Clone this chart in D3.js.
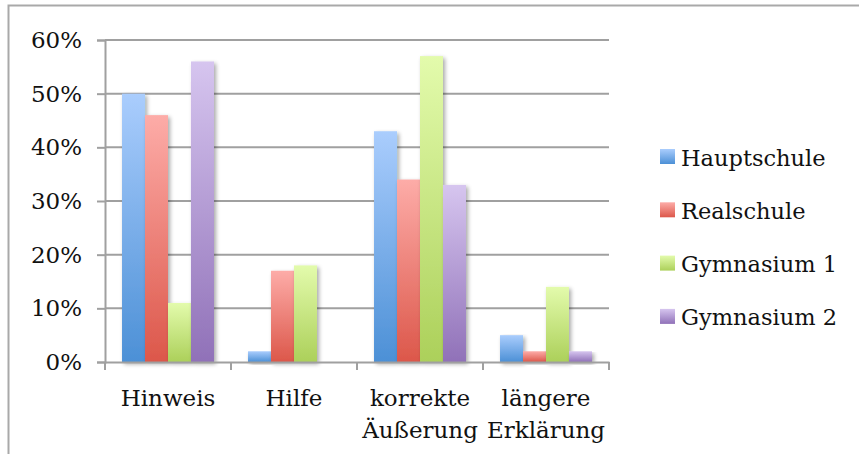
<!DOCTYPE html>
<html>
<head>
<meta charset="utf-8">
<script src="https://cdn.jsdelivr.net/npm/d3@7/dist/d3.min.js"></script>
<style>
  html, body { margin: 0; padding: 0; background: #fff; }
  svg { display: block; }
  text { font-family: "DejaVu Serif", serif; fill: #111; }
</style>
</head>
<body>
<svg id="chart" width="859" height="454"></svg>
<script>
// Feedback types (x categories, two-line labels)
const categories = ["Hinweis", "Hilfe", "korrekte Äußerung", "längere Erklärung"];
const categoryLines = [["Hinweis"], ["Hilfe"], ["korrekte", "Äußerung"], ["längere", "Erklärung"]];

// School types (series)
const seriesNames = ["Hauptschule", "Realschule", "Gymnasium 1", "Gymnasium 2"];

// Share per category, in percent
const hauptschule = [50, 2, 43, 5];
const realschule  = [46, 17, 34, 2];
const gymnasium1  = [11, 18, 57, 14];
const gymnasium2  = [56, 0, 33, 2];
const seriesValues = [hauptschule, realschule, gymnasium1, gymnasium2];

const yTicks = [0, 10, 20, 30, 40, 50, 60];

// Gradient colours (top, bottom) per series
const gradTop    = ["#aacdfd", "#fdaca8", "#e3fbac", "#d6c5ef"];
const gradBottom = ["#4c90d6", "#dc574a", "#acd05a", "#9071b8"];

const svg = d3.select("#chart");
const margin = { left: 105, right: 609, top: 40, bottom: 362 };

const defs = svg.append("defs");
seriesNames.forEach((s, i) => {
  const g = defs.append("linearGradient")
    .attr("id", "grad" + i).attr("x1", 0).attr("y1", 0).attr("x2", 0).attr("y2", 1);
  g.append("stop").attr("offset", "0%").attr("stop-color", gradTop[i]);
  g.append("stop").attr("offset", "100%").attr("stop-color", gradBottom[i]);
});
const shadow = defs.append("filter").attr("id", "shadow")
  .attr("x", "-30%").attr("y", "-10%").attr("width", "170%").attr("height", "130%");
shadow.append("feGaussianBlur").attr("in", "SourceAlpha").attr("stdDeviation", 2.2).attr("result", "blur");
shadow.append("feOffset").attr("in", "blur").attr("dx", 2).attr("dy", 2).attr("result", "off");
shadow.append("feComponentTransfer").attr("in", "off").attr("result", "soft")
  .append("feFuncA").attr("type", "linear").attr("slope", 0.35);
const merge = shadow.append("feMerge");
merge.append("feMergeNode").attr("in", "soft");
merge.append("feMergeNode").attr("in", "SourceGraphic");

// Chart frame
svg.append("rect")
  .attr("x", 8.5).attr("y", 5.5).attr("width", 900).attr("height", 500)
  .attr("fill", "#fff").attr("stroke", "#a9a9a9").attr("stroke-width", 2);

const x = d3.scaleBand().domain(categories).range([margin.left, margin.right]);
const xInner = d3.scaleBand().domain(seriesNames).range([0, x.bandwidth()]).paddingOuter(0.74).paddingInner(0);
const y = d3.scaleLinear().domain([0, 60]).range([margin.bottom, margin.top]);

// Horizontal gridlines + y axis labels
const yAxis = d3.axisLeft(y).tickValues(yTicks).tickSize(8)
  .tickFormat(d => d + "%").tickPadding(15);
const yG = svg.append("g").attr("transform", `translate(${margin.left},0)`).call(yAxis);
yG.select(".domain").attr("stroke", "#a0a0a0").attr("stroke-width", 2);
yG.selectAll(".tick line").attr("stroke", "#a0a0a0").attr("stroke-width", 2);
yG.selectAll(".tick text").style("font-size", "23px").style("font-family", "DejaVu Serif, serif").attr("fill", "#111");

svg.append("g").selectAll("line").data(yTicks.filter(d => d > 0)).join("line")
  .attr("x1", margin.left).attr("x2", margin.right)
  .attr("y1", d => y(d)).attr("y2", d => y(d))
  .attr("stroke", "#a0a0a0").attr("stroke-width", 2);

// Bars
const groups = svg.append("g").selectAll("g").data(categories).join("g")
  .attr("transform", d => `translate(${x(d)},0)`);
groups.selectAll("rect")
  .data((c, ci) => seriesNames.map((s, si) => ({ s, si, v: seriesValues[si][ci] })).filter(d => d.v > 0))
  .join("rect")
  .attr("x", d => xInner(d.s))
  .attr("width", xInner.bandwidth())
  .attr("y", d => y(d.v))
  .attr("height", d => y(0) - y(d.v))
  .attr("fill", d => `url(#grad${d.si})`)
  .attr("filter", "url(#shadow)");

// X axis baseline and ticks
const xAxis = d3.axisBottom(x).tickSize(0).tickFormat("");
const xG = svg.append("g").attr("transform", `translate(0,${margin.bottom})`).call(xAxis);
xG.select(".domain").attr("stroke", "#a0a0a0").attr("stroke-width", 2);
const edges = categories.map(c => x(c)).concat([x.range()[1]]);
svg.append("g").selectAll("line").data(edges).join("line")
  .attr("x1", d => d).attr("x2", d => d)
  .attr("y1", margin.bottom).attr("y2", margin.bottom + 8)
  .attr("stroke", "#a0a0a0").attr("stroke-width", 2);

// Category labels
const labels = svg.append("g").selectAll("text").data(categories).join("text")
  .attr("x", d => x(d) + x.bandwidth() / 2)
  .attr("y", 406)
  .attr("text-anchor", "middle")
  .style("font-size", "23px");
labels.selectAll("tspan").data((d, i) => categoryLines[i]).join("tspan")
  .attr("x", function () { return d3.select(this.parentNode).attr("x"); })
  .attr("dy", (d, i) => i === 0 ? 0 : 32)
  .text(d => d);

// Legend
const legend = svg.append("g").selectAll("g").data(seriesNames).join("g")
  .attr("transform", (d, i) => `translate(660,${149 + i * 53.3})`);
legend.append("rect").attr("width", 15).attr("height", 15)
  .attr("fill", (d, i) => `url(#grad${i})`);
legend.append("text").attr("x", 21).attr("y", 16.5)
  .style("font-size", "22.5px").text(d => d);
</script>
</body>
</html>
